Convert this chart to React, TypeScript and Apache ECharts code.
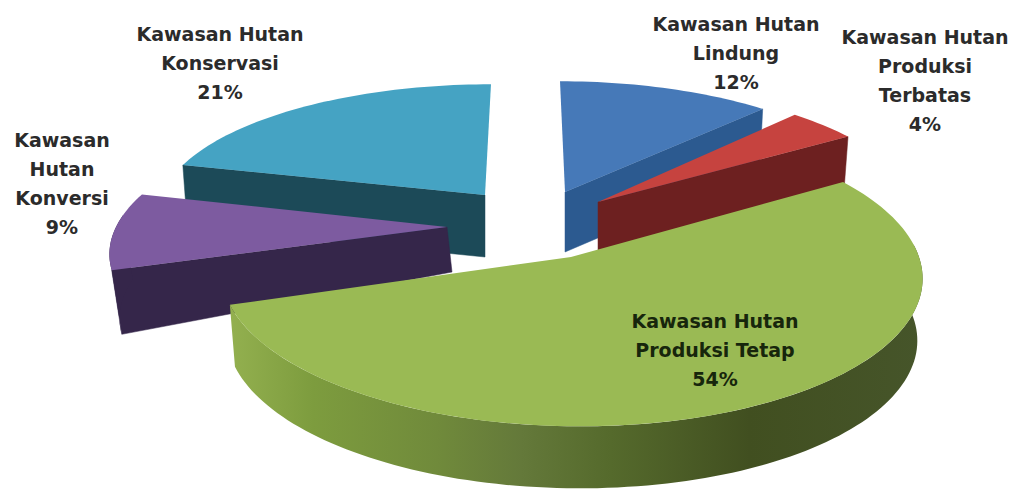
import React, { useEffect, useRef } from "react";
import * as echarts from "echarts";

// Data, clockwise from twelve o'clock
const labels = [
  "Kawasan Hutan\nLindung",
  "Kawasan Hutan\nProduksi\nTerbatas",
  "Kawasan Hutan\nProduksi Tetap",
  "Kawasan\nHutan\nKonversi",
  "Kawasan Hutan\nKonservasi",
];
const values = [12, 4, 54, 9, 21];

// Painter's order, back to front
const drawOrder = [0, 4, 1, 3, 2];

// Projection of each exploded slice: apex, radii, shear
const centerX = [565, 598, 571, 447, 485];
const centerY = [192, 202, 257, 227, 195];
const radiusX = [320, 319, 348, 331, 323];
const radiusY = [124, 130, 149, 135, 124];
const shear = [-5.6, -6, -8, 26, 6.7];
const perspective = 0.12;
const taper = 0.985;
const depthApex = [60, 49, 62, 45, 62];
const depthRim = [60, 50, 62, 64, 62];
const shiftX = [0, 0, 0, 5, 0];

const topColors = ["#4679b8", "#c6433f", "#9aba54", "#7d5ba0", "#45a3c3"];
const wallColors = ["#2c5a90", "#6d2020", "#6f8a3a", "#35264a", "#1c4a58"];

const labelX = [736, 925, 715, 62, 220];
const labelY = [23, 36, 320, 139, 33];

const greenWall = [
  { offset: 0, color: "#93b04f" },
  { offset: 0.12, color: "#7d9c3e" },
  { offset: 0.3, color: "#708a3b" },
  { offset: 0.42, color: "#64793a" },
  { offset: 0.55, color: "#556a2c" },
  { offset: 0.75, color: "#414f20" },
  { offset: 1, color: "#46552a" },
];

const total = values.reduce((a, b) => a + b, 0);
const rad = (d: number) => (d * Math.PI) / 180;

function point(i: number, deg: number, r: number, bottom: boolean): number[] {
  const X = r * Math.sin(rad(deg));
  const Y = r * Math.cos(rad(deg));
  const w = 1 + perspective * Y;
  let x = centerX[i] + (radiusX[i] * X + shear[i] * Y) / w;
  let y = centerY[i] - (radiusY[i] * Y) / w;
  if (bottom) {
    x = centerX[i] + (x - centerX[i]) * taper + shiftX[i];
    y += depthApex[i] + (depthRim[i] - depthApex[i]) * r;
  }
  return [x, y];
}

function arc(i: number, a0: number, a1: number, bottom: boolean): number[][] {
  const n = Math.max(2, Math.ceil(Math.abs(a1 - a0) / 1.5));
  const pts: number[][] = [];
  for (let k = 0; k <= n; k++) pts.push(point(i, a0 + ((a1 - a0) * k) / n, 1, bottom));
  return pts;
}

function radialWall(i: number, deg: number) {
  return {
    type: "polygon",
    shape: {
      points: [point(i, deg, 0, false), point(i, deg, 1, false), point(i, deg, 1, true), point(i, deg, 0, true)],
    },
    style: { fill: wallColors[i], stroke: wallColors[i], lineWidth: 0.5 },
  };
}

function renderItem(_params: any, api: any) {
  const i = api.value(0) as number;
  let acc = 0;
  for (let j = 0; j < i; j++) acc += values[j];
  const a0 = (acc / total) * 360;
  const a1 = ((acc + values[i]) / total) * 360;
  const children: any[] = [];

  if (Math.sin(rad(a0)) < -1e-6) children.push(radialWall(i, a0));
  if (Math.sin(rad(a1)) > 1e-6) children.push(radialWall(i, a1));

  const from = Math.max(a0, 85);
  const to = Math.min(a1, 275);
  if (to > from) {
    const fill =
      i === 2
        ? new echarts.graphic.LinearGradient(0, 0, 1, 0, greenWall)
        : wallColors[i];
    children.push({
      type: "polygon",
      shape: { points: [...arc(i, from, to, false), ...arc(i, to, from, true)] },
      style: { fill },
    });
  }

  children.push({
    type: "polygon",
    shape: { points: [point(i, a0, 0, false), ...arc(i, a0, a1, false)] },
    style: { fill: topColors[i] },
  });

  children.push({
    type: "text",
    z2: 50,
    style: {
      text: `${labels[i]}\n${values[i]}%`,
      x: labelX[i],
      y: labelY[i] - 14,
      align: "center",
      verticalAlign: "top",
      lineHeight: 29,
      font: 'bold 19px "DejaVu Sans"',
      fill: i === 2 ? "#17260c" : "#2b2b2b",
    },
  });

  return { type: "group", children };
}

export default function App() {
  const ref = useRef<HTMLDivElement>(null);
  useEffect(() => {
    document.body.style.margin = "0";
    const chart = echarts.init(ref.current!, undefined, { renderer: "svg" });
    chart.setOption({
      animation: false,
      backgroundColor: "#ffffff",
      series: [
        {
          type: "custom",
          coordinateSystem: "none",
          renderItem,
          data: drawOrder.map((i) => [i, values[i]]),
          silent: true,
          clip: false,
        },
      ],
    });
    return () => chart.dispose();
  }, []);
  return <div ref={ref} style={{ width: 1012, height: 489 }} />;
}
